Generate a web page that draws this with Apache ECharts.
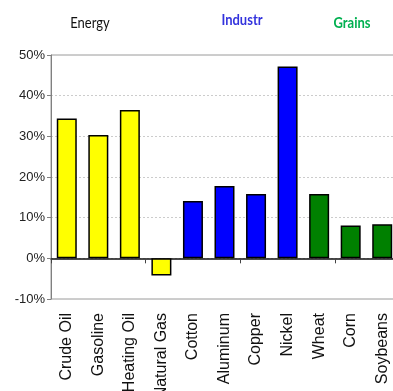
<!DOCTYPE html>
<html>
<head>
<meta charset="utf-8">
<script src="https://cdn.jsdelivr.net/npm/echarts@6/dist/echarts.min.js"></script>
<style>
  html, body { margin: 0; padding: 0; background: #fff; }
  #chart { width: 393px; height: 391px; }
</style>
</head>
<body>
<div id="chart"></div>
<script>
// Year-over-year price change by commodity, grouped by sector
const categories = ['Crude Oil', 'Gasoline', 'Heating Oil', 'Natural Gas', 'Cotton',
  'Aluminum', 'Copper', 'Nickel', 'Wheat', 'Corn', 'Soybeans'];
const changePct = [34.4, 30.3, 36.5, -4.2, 14.1, 17.8, 15.8, 47.2, 15.8, 8.1, 8.4];
const sectorOf = [0, 0, 0, 0, 1, 1, 1, 1, 2, 2, 2];
const sectorNames = ['Energy', 'Industr', 'Grains'];
const yTicks = { min: -10, max: 50, step: 10 };

const sectorFill = ['#ffff00', '#0000ff', '#008000'];
const sectorTitleStyle = [
  { color: '#111111', weight: 'normal', x: 90, y: 23 },
  { color: '#3333dd', weight: 'bold', x: 242, y: 20 },
  { color: '#00b050', weight: 'bold', x: 352, y: 23 }
];

const chart = echarts.init(document.getElementById('chart'), null, { renderer: 'canvas' });

const barData = changePct.map((v, i) => ({
  value: v,
  itemStyle: { color: sectorFill[sectorOf[i]] }
}));

const option = {
  animation: false,
  backgroundColor: '#ffffff',
  grid: {
    left: 51, top: 55, right: -5, bottom: 92,
    containLabel: false,
    outerBoundsMode: 'none',
    show: true, borderColor: '#9a9a9a', borderWidth: 1, backgroundColor: 'transparent'
  },
  graphic: sectorNames.map((name, i) => ({
    type: 'text',
    x: sectorTitleStyle[i].x,
    y: sectorTitleStyle[i].y,
    scaleY: 1.2,
    style: {
      text: name,
      fill: sectorTitleStyle[i].color,
      font: sectorTitleStyle[i].weight + ' 13px Lato, "Open Sans", sans-serif',
      textAlign: 'center',
      textVerticalAlign: 'middle'
    }
  })),
  xAxis: [
    {
      type: 'category',
      data: categories,
      position: 'bottom',
      axisLine: { show: false, onZero: false },
      axisTick: { show: false },
      axisLabel: {
        rotate: 90,
        margin: 14,
        interval: 0,
        color: '#111',
        fontFamily: 'Arial, "Liberation Sans", sans-serif',
        fontSize: 16
      },
      splitLine: { show: false }
    },
    {
      type: 'category',
      data: categories,
      position: 'bottom',
      axisLine: { show: true, onZero: true, lineStyle: { color: '#111', width: 1.5 } },
      axisTick: { show: true, inside: false, length: 5, lineStyle: { color: '#444', width: 1 } },
      axisLabel: { show: false },
      splitLine: { show: false }
    }
  ],
  yAxis: {
    type: 'value',
    min: yTicks.min,
    max: yTicks.max,
    interval: yTicks.step,
    axisLine: { show: true, lineStyle: { color: '#808080', width: 1 } },
    axisTick: { show: true, length: 4, lineStyle: { color: '#808080' } },
    axisLabel: {
      formatter: '{value}%',
      color: '#222',
      fontFamily: 'Arial, "Liberation Sans", sans-serif',
      fontSize: 13,
      margin: 6
    },
    splitLine: { show: true, lineStyle: { color: '#cccccc', type: [2, 2], width: 1 } }
  },
  series: [{
    type: 'bar',
    xAxisIndex: 0,
    data: barData,
    barWidth: 20,
    itemStyle: { borderColor: '#000', borderWidth: 1.5 },
    z: 1
  }]
};

chart.setOption(option);
</script>
</body>
</html>
